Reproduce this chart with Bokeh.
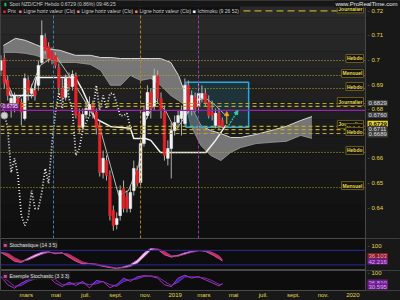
import numpy as np
import pandas as pd
from bokeh.plotting import figure
from bokeh.layouts import column
from bokeh.models import Range1d, FixedTicker, Span, Label, BoxAnnotation, Arrow, NormalHead
from bokeh.embed import file_html
from bokeh.resources import INLINE

# ---------------- data ----------------
candle_dates = pd.date_range("2018-01-08", periods=66, freq="7D")
opens = [0.6958, 0.7006, 0.6917, 0.6823, 0.6803, 0.6844, 0.6827, 0.6762, 0.6917, 0.6864,
         0.6876, 0.6897, 0.6990, 0.7088, 0.7055, 0.7039, 0.7019, 0.6970, 0.6884, 0.6848,
         0.6925, 0.6892, 0.6937, 0.6783, 0.6726, 0.6778, 0.6795, 0.6819, 0.6787, 0.6734,
         0.6542, 0.6591, 0.6530, 0.6388, 0.6331, 0.6367, 0.6477, 0.6445, 0.6396, 0.6469,
         0.6551, 0.6502, 0.6660, 0.6774, 0.6868, 0.6811, 0.6937, 0.6844, 0.6787, 0.6600,
         0.6640, 0.6713, 0.6746, 0.6762, 0.6742, 0.6897, 0.6795, 0.6848, 0.6811, 0.6844,
         0.6864, 0.6827, 0.6787, 0.6734, 0.6783, 0.6754]
closes = [0.6998, 0.6905, 0.6856, 0.6844, 0.6856, 0.6827, 0.6787, 0.6925, 0.6868, 0.6884,
          0.6856, 0.6978, 0.7100, 0.7039, 0.7006, 0.6998, 0.6978, 0.6888, 0.6848, 0.6925,
          0.6892, 0.6941, 0.6774, 0.6722, 0.6778, 0.6803, 0.6819, 0.6787, 0.6722, 0.6542,
          0.6600, 0.6530, 0.6367, 0.6327, 0.6355, 0.6469, 0.6396, 0.6396, 0.6461, 0.6559,
          0.6498, 0.6660, 0.6787, 0.6868, 0.6803, 0.6937, 0.6844, 0.6795, 0.6612, 0.6640,
          0.6713, 0.6746, 0.6774, 0.6795, 0.6897, 0.6795, 0.6856, 0.6803, 0.6864, 0.6864,
          0.6823, 0.6774, 0.6774, 0.6783, 0.6726, 0.6729]
highs = [0.7019, 0.7027, 0.6937, 0.6876, 0.6868, 0.6856, 0.6844, 0.6945, 0.6933, 0.6901,
         0.6909, 0.6998, 0.7161, 0.7108, 0.7072, 0.7051, 0.7031, 0.6986, 0.6925, 0.6941,
         0.6949, 0.6958, 0.6949, 0.6803, 0.6803, 0.6835, 0.6852, 0.6835, 0.6803, 0.6754,
         0.6632, 0.6612, 0.6551, 0.6408, 0.6380, 0.6490, 0.6510, 0.6469, 0.6490, 0.6591,
         0.6571, 0.6673, 0.6815, 0.6897, 0.6884, 0.6966, 0.6958, 0.6868, 0.6815, 0.6673,
         0.6746, 0.6774, 0.6795, 0.6815, 0.6925, 0.6917, 0.6876, 0.6868, 0.6905, 0.6897,
         0.6884, 0.6856, 0.6835, 0.6803, 0.6803, 0.6766]
lows = [0.6937, 0.6884, 0.6835, 0.6766, 0.6787, 0.6811, 0.6734, 0.6754, 0.6835, 0.6844,
        0.6835, 0.6876, 0.6982, 0.7023, 0.6990, 0.6982, 0.6966, 0.6868, 0.6835, 0.6835,
        0.6876, 0.6876, 0.6762, 0.6705, 0.6713, 0.6762, 0.6770, 0.6762, 0.6697, 0.6526,
        0.6518, 0.6510, 0.6347, 0.6306, 0.6311, 0.6347, 0.6380, 0.6380, 0.6380, 0.6449,
        0.6485, 0.6490, 0.6648, 0.6762, 0.6762, 0.6795, 0.6827, 0.6762, 0.6591, 0.6571,
        0.6518, 0.6693, 0.6722, 0.6693, 0.6734, 0.6783, 0.6774, 0.6787, 0.6795, 0.6827,
        0.6811, 0.6762, 0.6754, 0.6722, 0.6713, 0.6722]
chikou_shift_weeks = 26

cloud_dates = ["2018-01-13", "2018-02-07", "2018-02-27", "2018-03-20", "2018-04-09", "2018-05-10",
               "2018-06-10", "2018-07-11", "2018-08-01", "2018-08-21", "2018-09-11", "2018-10-01",
               "2018-10-22", "2018-11-12", "2018-12-02", "2018-12-23", "2019-01-08", "2019-01-23",
               "2019-02-02", "2019-02-23", "2019-03-15", "2019-04-05", "2019-04-25", "2019-05-16",
               "2019-06-16", "2019-07-17", "2019-08-17", "2019-09-16", "2019-10-09"]
cloud_top = [0.7059, 0.7088, 0.7080, 0.7063, 0.7047, 0.7039, 0.7019, 0.7019, 0.7010, 0.7010,
             0.7006, 0.7006, 0.7006, 0.7006, 0.7006, 0.6990, 0.6937, 0.6856, 0.6815, 0.6734,
             0.6713, 0.6701, 0.6685, 0.6685, 0.6697, 0.6713, 0.6730, 0.6754, 0.6770]
cloud_bottom = [0.7031, 0.7031, 0.7027, 0.7019, 0.7006, 0.6990, 0.6990, 0.6982, 0.6958, 0.6897,
                0.6897, 0.6937, 0.6917, 0.6925, 0.6897, 0.6856, 0.6835, 0.6815, 0.6734, 0.6652,
                0.6612, 0.6591, 0.6624, 0.6644, 0.6660, 0.6665, 0.6669, 0.6693, 0.6681]

kijun_dates = ["2018-01-13", "2018-01-27", "2018-03-16", "2018-03-22", "2018-06-10", "2018-06-25",
               "2018-07-21", "2018-08-21", "2018-10-01", "2018-10-08", "2018-11-01", "2018-11-12",
               "2018-12-02", "2019-03-05", "2019-03-25", "2019-04-15"]
kijun = [0.6949, 0.6856, 0.6856, 0.6929, 0.6929, 0.6876, 0.6762, 0.6730, 0.6722, 0.6681,
         0.6681, 0.6673, 0.6624, 0.6624, 0.6673, 0.6734]

tenkan_dates = ["2018-01-13", "2018-02-07", "2018-03-10", "2018-03-30", "2018-04-30", "2018-05-21",
                "2018-06-10", "2018-07-11", "2018-08-01", "2018-08-21", "2018-09-07", "2018-09-27",
                "2018-10-18", "2018-11-01", "2018-11-22", "2018-12-12", "2019-01-02", "2019-01-23",
                "2019-02-12", "2019-03-05", "2019-03-25", "2019-04-15"]
tenkan = [0.6937, 0.6835, 0.6884, 0.6978, 0.7019, 0.6958, 0.6897, 0.6795, 0.6713, 0.6571,
          0.6449, 0.6469, 0.6571, 0.6754, 0.6835, 0.6795, 0.6713, 0.6774, 0.6835, 0.6844,
          0.6815, 0.6774]

levels = [0.6998, 0.6937, 0.6884, 0.6823, 0.6811, 0.6730, 0.6717, 0.6701, 0.6624, 0.6481]
level_names = ["Hebdo", "Mensuel", "Hebdo", "Journalier", "", "Journalier", "Hebdo", "Hebdo",
               "Hebdo", "Mensuel"]
level_dashed = [False, False, False, True, True, True, True, True, False, False]
top_level = 0.7200
top_level_dates = ["2019-02-20", "2019-12-12"]
purple_level = 0.6795

event_dates = ["2018-04-26", "2018-10-22", "2019-02-18"]
event_colors = ["#3f7fb8", "#b8862a", "#b030b0"]

box_dates = ["2019-01-23", "2019-06-01"]
box_prices = [0.6726, 0.6909]

green_arrow_dates = ["2019-04-21", "2019-05-10"]
green_arrow_prices = [0.6734, 0.6795]
orange_arrow_dates = ["2019-04-17", "2019-04-17"]
orange_arrow_prices = [0.6740, 0.6790]
marker_date = "2018-01-15"
marker_price = 0.6774

price_ticks = [0.64, 0.65, 0.66, 0.67, 0.68, 0.69, 0.70, 0.71, 0.72]
price_tick_labels = ["0.64", "0.65", "0.66", "0.67", "0.68", "0.69", "0.7", "0.71", "0.72"]
value_boxes = [0.6829, 0.6760, 0.6729, 0.6711, 0.6689]
value_box_shift = [-1, 4, 3, 2, 2]   # label nudges in px (to keep boxes apart)

stoch_idx = list(range(0, 66, 2)) + [65]
stoch_k = [72, 55, 35, 30, 48, 62, 72, 74, 66, 70, 52, 35, 24, 26, 20, 14, 9, 5, 12, 22,
           40, 70, 88, 84, 62, 52, 60, 70, 76, 80, 76, 62, 46, 36.103]
stoch_d = [70, 68, 50, 36, 40, 52, 64, 72, 70, 68, 64, 48, 32, 25, 24, 18, 12, 7, 8, 14,
           26, 52, 80, 86, 76, 58, 56, 64, 72, 78, 80, 72, 58, 42.216]
ex_fast = [80, 30, 8, 40, 60, 72, 72, 78, 40, 18, 45, 25, 50, 10, 55, 48, 12, 30, 70, 50,
           78, 85, 82, 70, 30, 18, 70, 88, 70, 80, 60, 42, 22, 36.810]
ex_slow = [78, 55, 20, 25, 50, 65, 72, 74, 60, 30, 30, 40, 38, 30, 35, 50, 30, 20, 50, 60,
           65, 80, 84, 78, 50, 25, 45, 78, 78, 75, 70, 55, 32, 30.595]
stoch_ticks = [100]

month_ticks = ["2018-03-01", "2018-05-01", "2018-07-01", "2018-09-01", "2018-11-01", "2019-01-01",
               "2019-03-01", "2019-05-01", "2019-07-01", "2019-09-01", "2019-11-01", "2020-01-01"]
month_labels = ["mars", "mai", "juil.", "sept.", "nov.", "2019", "mars", "mai", "juil.",
                "sept.", "nov.", "2020"]

# ---------------- styling helpers ----------------
FONT = "Liberation Sans"
YEL = "#e6d84a"
AXIS_BG = "#181818"
W = 400
STRIP_START = "2020-01-27"   # left edge of the price-scale strip


def ms(d):
    return int(pd.Timestamp(d).value // 10**6)


x_range = Range1d(start=pd.Timestamp("2018-01-07 04:00"), end=pd.Timestamp("2020-04-08"))


def base_fig(height, y_range):
    f = figure(width=W, height=height, x_axis_type="datetime", x_range=x_range, y_range=y_range,
               output_backend="svg", toolbar_location=None, y_axis_location=None,
               min_border_left=0, min_border_right=0, min_border_top=0, min_border_bottom=0)
    f.title.visible = False
    f.grid.visible = False
    f.background_fill_color = "#0d0d0d"
    f.border_fill_color = AXIS_BG
    f.outline_line_color = "#4a4a4a"
    return f


def box_label(fig, x, y, text, bg, color, x_units="screen", y_units="data", align="left",
              y_offset=0, size="5px", border=None, bold=False):
    fig.add_layout(Label(x=x, y=y, x_units=x_units, y_units=y_units, text=text,
                         text_align=align, text_baseline="middle", y_offset=y_offset,
                         text_font=FONT, text_font_size=size, text_color=color,
                         text_font_style="bold" if bold else "normal",
                         background_fill_color=bg, background_fill_alpha=1.0 if bg else 0.0,
                         border_line_color=border, padding=1))


def price_strip(fig, ticks, labels):
    fig.add_layout(BoxAnnotation(left=ms(STRIP_START), fill_color=AXIS_BG, fill_alpha=1.0,
                                 line_color=None))
    fig.add_layout(Span(location=ms(STRIP_START), dimension="height", line_color="#4a4a4a",
                        line_width=1))
    for t, lab in zip(ticks, labels):
        box_label(fig, 366, t, "-", None, "#888888", size="6px")
        box_label(fig, 370, t, lab, None, YEL, size="6px")


# ---------------- main price panel ----------------
YLO, YHI = 0.6274, 0.7242
MAIN_H = 238
p = base_fig(MAIN_H, Range1d(YLO, YHI))
p.xaxis.visible = False

nb = 14
for k in range(nb):
    c = int(14 + (44 - 14) * (k + 0.5) / nb)
    p.add_layout(BoxAnnotation(bottom=YLO + (YHI - YLO) * k / nb, top=YLO + (YHI - YLO) * (k + 1) / nb,
                               fill_color=f"#{c:02x}{c:02x}{c:02x}", fill_alpha=1.0,
                               line_color=None, level="underlay"))

# Ichimoku cloud
cd = pd.to_datetime(cloud_dates)
p.varea(x=cd, y1=cloud_bottom, y2=cloud_top, fill_color="#8c8c8c", fill_alpha=0.8)
p.line(cd, cloud_top, line_color="#d8d8d8", line_width=1)
p.line(cd, cloud_bottom, line_color="#9a9a9a", line_width=0.8)

# level lines
for lv, dashed in zip(levels, level_dashed):
    p.add_layout(Span(location=lv, dimension="width", line_color="#b9a82c",
                      line_dash="4 3" if dashed else "1 2", line_width=1.2 if dashed else 1))
p.segment(x0=[pd.Timestamp(top_level_dates[0])], y0=[top_level],
          x1=[pd.Timestamp(top_level_dates[1])], y1=[top_level],
          line_color="#b9a82c", line_dash="7 4", line_width=1.2)
p.add_layout(Span(location=purple_level, dimension="width", line_color="#9a22b0", line_width=1.2))

# event lines
for d, c in zip(event_dates, event_colors):
    p.add_layout(Span(location=ms(d), dimension="height", line_color=c, line_dash="3 2", line_width=1))

# box
p.quad(left=[pd.Timestamp(box_dates[0])], right=[pd.Timestamp(box_dates[1])],
       bottom=[box_prices[0]], top=[box_prices[1]], fill_color="#1e4c5c", fill_alpha=0.45,
       line_color="#2aa8e0", line_width=1.5)

# kijun / tenkan / chikou
p.line(pd.to_datetime(tenkan_dates), tenkan, line_color="#b8b8b8", line_width=1)
p.line(pd.to_datetime(kijun_dates), kijun, line_color="#f4f4f4", line_width=1.5)
p.line(candle_dates - pd.Timedelta(weeks=chikou_shift_weeks), closes, line_color="#ececec",
       line_dash="1 2", line_width=1.8)

# candles
o = np.array(opens); c_ = np.array(closes); h = np.array(highs); l = np.array(lows)
inc = c_ >= o
dec = ~inc
bw = 5.5 * 24 * 3600 * 1000
p.segment(candle_dates, h, candle_dates, l, line_color="#b0b0b0", line_width=1)
p.vbar(x=candle_dates[inc], width=bw, top=c_[inc], bottom=o[inc], fill_color="#f4f4f4",
       line_color="#f4f4f4", line_width=0.5)
p.vbar(x=candle_dates[dec], width=bw, top=o[dec], bottom=c_[dec], fill_color="#e3242b",
       line_color="#e3242b", line_width=0.5)

# arrows & marker
p.add_layout(Arrow(end=NormalHead(size=4, fill_color="#2fd0a0", line_color="#2fd0a0"),
                   x_start=ms(green_arrow_dates[0]), y_start=green_arrow_prices[0],
                   x_end=ms(green_arrow_dates[1]), y_end=green_arrow_prices[1],
                   line_color="#2fd0a0", line_dash="2 1", line_width=1.2))
p.add_layout(Arrow(end=NormalHead(size=4, fill_color="#f0a020", line_color="#f0a020"),
                   x_start=ms(orange_arrow_dates[0]), y_start=orange_arrow_prices[0],
                   x_end=ms(orange_arrow_dates[1]), y_end=orange_arrow_prices[1],
                   line_color="#f0a020", line_width=1.2))
p.scatter([pd.Timestamp(marker_date)], [marker_price], size=7, fill_color="#d0d0d0",
          line_color="#888888")

# price scale strip (right)
price_strip(p, price_ticks, price_tick_labels)

# level name boxes
for lv, name in zip(levels, level_names):
    if name:
        box_label(p, 363, lv, name, "#141414", YEL, align="right", y_offset=2, border="#6a5c18",
                  bold=True)
box_label(p, 363, top_level, "Journalier", "#141414", YEL, align="right", y_offset=2,
          border="#6a5c18", bold=True)
box_label(p, 1, purple_level, "0.6795", "#7a1a8a", "#f0f0f0", y_offset=4)

# right-scale value boxes
for v, sh in zip(value_boxes, value_box_shift):
    if abs(v - closes[-1]) < 1e-9:
        box_label(p, 367, v, f"{v:.4f}", "#e8d430", "#111111", y_offset=sh, size="6px", bold=True)
    else:
        box_label(p, 367, v, f"{v:.4f}", "#3a3a3a", "#e0e0e0", y_offset=sh, size="6px")

# header rows
p.add_layout(BoxAnnotation(top=MAIN_H, bottom=MAIN_H - 6, top_units="screen", bottom_units="screen",
                           fill_color="#161616", fill_alpha=1.0, line_color=None))
box_label(p, 2, MAIN_H - 3, "▮", "#161616", "#30c040", y_units="screen", size="5px")
box_label(p, 8, MAIN_H - 3, "Spot NZD/CHF Hebdo 0.6729 (0.86%) 09:46:25", "#161616", "#c8c8c8",
          y_units="screen", size="5px")
box_label(p, 398, MAIN_H - 3, "www.ProRealTime.com", "#161616", "#e8e8e8", align="right",
          y_units="screen", size="6px")
legend_items = [(1, "#e3242b", "Prix"), (17, "#f08080", "Ligne horiz valeur (Clo)"),
                (75, "#f08080", "Ligne horiz valeur (Clo)"), (133, "#f08080", "Ligne horiz valeur (Clo)"),
                (191, "#ffffff", "Ichimoku (9 26 52)")]
for xx, col, txt in legend_items:
    box_label(p, xx, MAIN_H - 10, "■", "#111111", col, y_units="screen", size="5px")
    box_label(p, xx + 5, MAIN_H - 10, txt, "#111111", "#d0d0d0", y_units="screen", size="5px")

# ---------------- stochastic panel 1 ----------------
sd = candle_dates[stoch_idx]
k = np.array(stoch_k, dtype=float); d = np.array(stoch_d, dtype=float)
s1 = base_fig(32, Range1d(-3, 129))
s1.xaxis.visible = False
for lv in (80, 20):
    s1.add_layout(Span(location=lv, dimension="width", line_color="#2a2a9a", line_width=1))
s1.varea(x=sd, y1=np.minimum(k, d), y2=d, fill_color="#e0303c", fill_alpha=0.95)
s1.varea(x=sd, y1=d, y2=np.maximum(k, d), fill_color="#e8d8f0", fill_alpha=0.95)
s1.line(sd, k, line_color="#c050c0", line_width=1)
s1.line(sd, d, line_color="#a03090", line_width=1)
price_strip(s1, stoch_ticks, [str(t) for t in stoch_ticks])
box_label(s1, 2, 26, "■", "#1c1c1c", "#e040a0", y_units="screen", size="6px")
box_label(s1, 8, 26, "Stochastique (14 3 5)", "#1c1c1c", "#e0e0e0", y_units="screen", size="5px")
box_label(s1, 367, stoch_k[-1], f"{stoch_k[-1]:.3f}", "#7a2030", "#ff9aa0", y_offset=5, size="6px")
box_label(s1, 367, stoch_d[-1], f"{stoch_d[-1]:.3f}", "#6a2088", "#e0a0ff", y_offset=-2, size="6px")

# ---------------- stochastic panel 2 ----------------
f_ = np.array(ex_fast, dtype=float); sl = np.array(ex_slow, dtype=float)
s2 = base_fig(30, Range1d(-5.5, 116.7))
s2.varea(x=sd, y1=sl, y2=np.maximum(f_, sl), fill_color="#2626b8", fill_alpha=0.95)
s2.line(sd, f_, line_color="#b030c0", line_width=1)
s2.line(sd, sl, line_color="#8030a8", line_width=1)
price_strip(s2, stoch_ticks, [str(t) for t in stoch_ticks])
box_label(s2, 2, 15, "■", "#1c1c1c", "#e040a0", y_units="screen", size="6px")
box_label(s2, 8, 15, "Exemple Stochastic (3 3 3)", "#1c1c1c", "#e0e0e0", y_units="screen", size="5px")
box_label(s2, 367, ex_fast[-1], f"{ex_fast[-1]:.3f}", "#6a2088", "#e0a0ff", y_offset=1, size="6px")
box_label(s2, 367, ex_slow[-1], f"{ex_slow[-1]:.3f}", "#6a2088", "#e0a0ff", y_offset=-2, size="6px")

tick_ms = [ms(t) for t in month_ticks]
s2.xaxis.ticker = FixedTicker(ticks=tick_ms)
s2.xaxis.major_label_overrides = {t: lab for t, lab in zip(tick_ms, month_labels)}
s2.xaxis.axis_line_color = None
s2.xaxis.major_tick_line_color = None
s2.xaxis.minor_tick_line_color = None
s2.xaxis.major_tick_out = 0
s2.xaxis.major_tick_in = 0
s2.xaxis.major_label_standoff = 1
s2.xaxis.major_label_text_font_size = "6px"
s2.xaxis.major_label_text_color = YEL
s2.xaxis.major_label_text_font = FONT

layout = column(p, s1, s2, spacing=0)
layout.background = AXIS_BG
open("out.html", "w").write(file_html(layout, INLINE))
